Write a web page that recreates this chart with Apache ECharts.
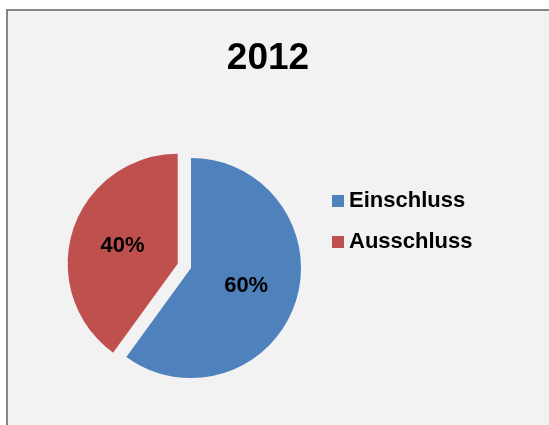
<!DOCTYPE html>
<html>
<head>
<meta charset="utf-8">
<script src="https://cdn.jsdelivr.net/npm/echarts@6/dist/echarts.min.js"></script>
<style>
  html, body { margin: 0; padding: 0; background: #ffffff; }
  #chart { width: 549px; height: 425px; }
</style>
</head>
<body>
<div id="chart"></div>
<script>
// Share of cases per group, 2012
const titleText = '2012';
const categories = ['Einschluss', 'Ausschluss'];
const shares = [60, 40];
const sliceColors = ['#4f81bd', '#c0504d'];
const explodedSlices = [false, true];

const FONT = '"Liberation Sans", Arial, sans-serif';

const chart = echarts.init(document.getElementById('chart'), null, { renderer: 'canvas' });

chart.setOption({
  backgroundColor: '#ffffff',
  animation: false,
  graphic: [{
    type: 'rect',
    z: -10,
    shape: { x: 7, y: 10, width: 600, height: 500 },
    style: { fill: '#f2f2f2', stroke: '#868686', lineWidth: 2 }
  }],
  title: {
    text: titleText,
    left: 268,
    top: 40,
    padding: 0,
    textAlign: 'center',
    textStyle: { fontFamily: FONT, fontWeight: 'bold', fontSize: 37, color: '#000000' }
  },
  legend: {
    orient: 'vertical',
    left: 332,
    top: 190,
    padding: 0,
    itemWidth: 12,
    itemHeight: 12,
    itemGap: 19,
    icon: 'rect',
    selectedMode: false,
    textStyle: { fontFamily: FONT, fontWeight: 'bold', fontSize: 22, lineHeight: 22, color: '#000000' },
    data: categories
  },
  series: [{
    type: 'pie',
    center: [191, 268],
    radius: [0, 110],
    startAngle: 90,
    clockwise: true,
    selectedMode: 'multiple',
    selectedOffset: 14,
    label: {
      show: true,
      position: 'inside',
      formatter: '{c}%',
      fontFamily: FONT,
      fontWeight: 'bold',
      fontSize: 22,
      color: '#000000'
    },
    labelLine: { show: false },
    emphasis: { disabled: true },
    itemStyle: { borderWidth: 0 },
    data: categories.map((name, i) => ({
      name: name,
      value: shares[i],
      selected: explodedSlices[i],
      itemStyle: { color: sliceColors[i] }
    }))
  }]
});
</script>
</body>
</html>
